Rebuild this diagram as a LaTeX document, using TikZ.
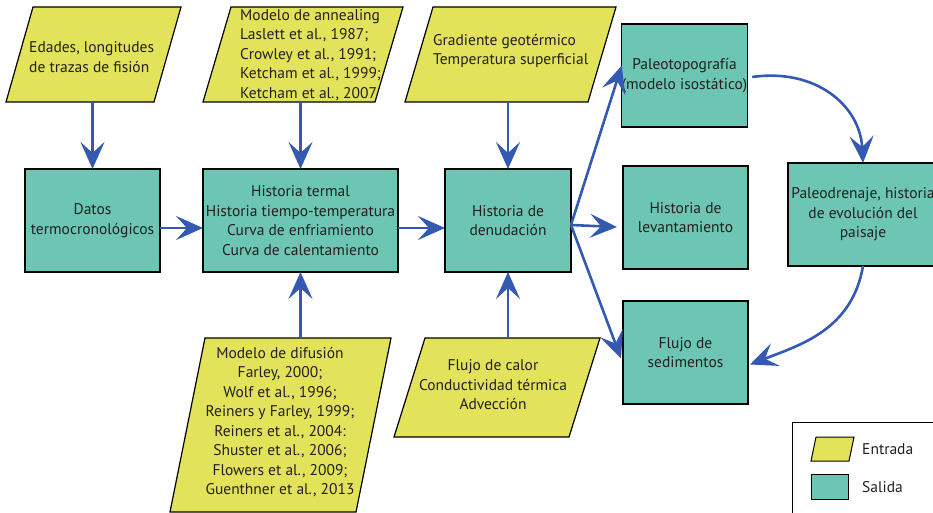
\documentclass[tikz,border=0pt]{standalone}
\usepackage{fontspec}
\setmainfont{PT Sans}
\usetikzlibrary{arrows.meta}
\definecolor{inY}{HTML}{E3E35B}
\definecolor{outT}{HTML}{6CC6B3}
\definecolor{arrB}{HTML}{3459B3}
\definecolor{txt}{HTML}{231F20}
\begin{document}
\begin{tikzpicture}[x=1pt,y=-1pt,
  boxfont/.style={font=\fontsize{15.5}{19.5}\selectfont},
  outbox/.style={draw=black, line width=1.2pt, fill=outT, inner sep=0pt, outer sep=0pt, text=txt, align=center, boxfont},
  inshape/.style={draw=black, line width=1.2pt, fill=inY, line join=miter},
  anchorbox/.style={inner sep=0pt, outer sep=0pt},
  intext/.style={inner sep=0pt, text=txt, boxfont},
  conn/.style={draw=arrB, line width=2.6pt, -{Stealth[length=27pt,width=24pt,inset=11pt]}},
  legtext/.style={inner sep=0pt, text=txt, anchor=west, boxfont}]
\useasboundingbox (0,0) rectangle (933,513);
\clip (0,0) rectangle (933,513);

% input parallelograms
\draw[inshape] (33,7) -- (181,7) -- (154,102) -- (6,102) -- cycle;
\node[anchorbox, minimum width=148pt, minimum height=95pt] (in1) at (93.5,54.5) {};
\node[intext, anchor=west, align=left] (t1) at (29,57) {Edades, longitudes\\de trazas de fisión};

\draw[inshape] (231,7) -- (403,7) -- (375,102) -- (203,102) -- cycle;
\node[anchorbox, minimum width=172pt, minimum height=95pt] (in2) at (303,54.5) {};
\node[intext, anchor=west, align=left] (t2) at (240,55) {Modelo de annealing\\Laslett et al., 1987;\\Crowley et al., 1991;\\Ketcham et al., 1999;\\Ketcham et al., 2007};

\draw[inshape] (433,7) -- (616,7) -- (588,102) -- (405,102) -- cycle;
\node[anchorbox, minimum width=183pt, minimum height=95pt] (in3) at (510.5,54.5) {};
\node[intext, anchor=west, align=left] (t3) at (433,51) {Gradiente geotérmico\\Temperatura superficial};

\draw[inshape] (205,338) -- (391,338) -- (356,512) -- (170,512) -- cycle;
\node[anchorbox, minimum width=186pt, minimum height=174pt] (in4) at (280.5,425) {};
\node[intext, align=center] (t4) at (280,422) {Modelo de difusión\\Farley, 2000;\\Wolf et al., 1996;\\Reiners y Farley, 1999;\\Reiners et al., 2004:\\Shuster et al., 2006;\\Flowers et al., 2009;\\Guenthner et al., 2013};

\draw[inshape] (425,338) -- (600,338) -- (569,437) -- (394,437) -- cycle;
\node[anchorbox, minimum width=175pt, minimum height=99pt] (in5) at (497,387.5) {};
\node[intext, align=center] (t5) at (493,385) {Flujo de calor\\Conductividad térmica\\Advección};

% output boxes
\node[outbox, minimum width=135pt, minimum height=103pt] (datos) at (92.5,220.5) {Datos\\termocronológicos};
\node[outbox, minimum width=195pt, minimum height=103pt] (termal) at (300.5,220.5) {Historia termal\\Historia tiempo-temperatura\\Curva de enfriamiento\\Curva de calentamiento};
\node[outbox, minimum width=126pt, minimum height=103pt] (denud) at (508,220.5) {Historia de\\denudación};
\node[outbox, minimum width=125pt, minimum height=103pt] (paleo) at (684.5,75.5) {Paleotopografía\\(modelo isostático)};
\node[outbox, minimum width=125pt, minimum height=103pt] (levan) at (685.5,217.5) {Historia de\\levantamiento};
\node[outbox, minimum width=125pt, minimum height=103pt] (flujo) at (685.5,352.5) {Flujo de\\sedimentos};
\node[outbox, minimum width=150pt, minimum height=103pt] (drena) at (863,214.5) {Paleodrenaje, historia\\de evolución del\\paisaje};

% connectors
\draw[conn] (in1.south -| datos.north) -- (datos.north);
\draw[conn] (in2.south -| termal.north) -- (termal.north);
\draw[conn] (in3.south -| denud.north) -- (denud.north);
\draw[conn] (in4.north -| termal.south) -- (termal.south);
\draw[conn] (in5.north -| denud.south) -- (denud.south);
\draw[conn] (datos.east |- 0,228) -- (termal.west |- 0,228);
\draw[conn] (termal.east |- 0,228) -- (denud.west |- 0,228);
\coordinate (dout) at (denud.east |- 0,225);
\draw[conn] (dout) -- ([yshift=10pt]paleo.west);
\draw[conn] (dout) -- ([xshift=-6pt]levan.west |- 0,227);
\draw[conn] (dout) -- ([xshift=-2pt,yshift=-6pt]flujo.west);
\draw[conn] ([xshift=5pt,yshift=-1.5pt]paleo.east) .. controls (815,68) and (860,105) .. (drena.north);
\draw[conn] (drena.south) .. controls (852,330) and (800,345) .. ([xshift=2pt,yshift=-12pt]flujo.east);

% legend
\node[draw=black, line width=0.8pt, inner sep=0pt, minimum width=150pt, minimum height=92pt, anchor=north west] (legend) at (792,422) {};
\draw[inshape, line width=1pt] (816,437) -- (854,437) -- (849,461) -- (811,461) -- cycle;
\node[anchorbox, minimum width=38pt, minimum height=24pt] (legin) at (832.5,449) {};
\node[legtext] (legint) at (862,449) {Entrada};
\node[draw=black, line width=1pt, fill=outT, minimum width=37pt, minimum height=25pt, inner sep=0pt] (legout) at (829.5,486.5) {};
\node[legtext] (legoutt) at (862,487) {Salida};
\end{tikzpicture}
\end{document}
